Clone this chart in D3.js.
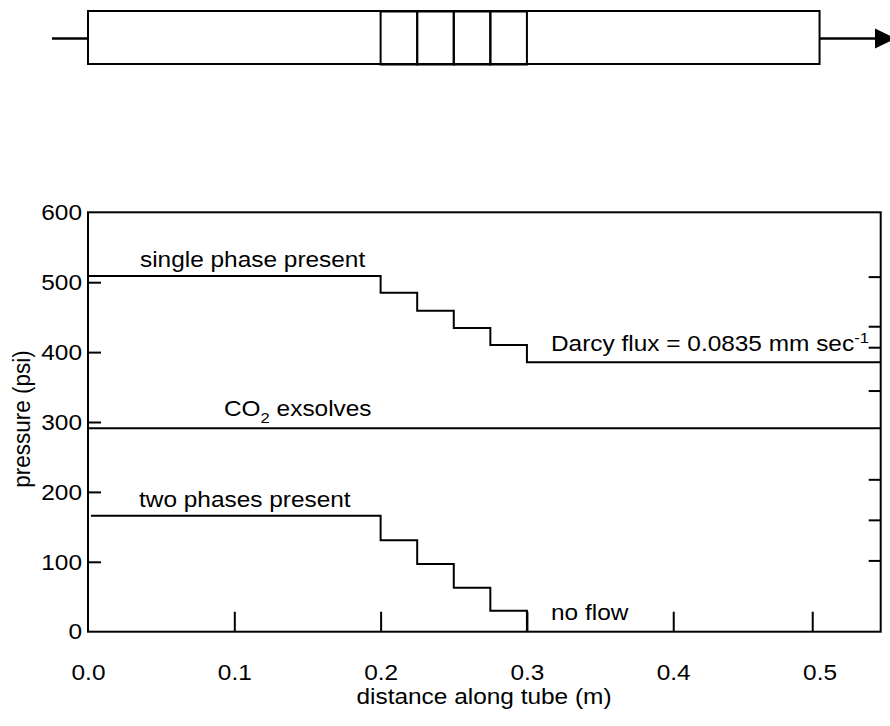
<!DOCTYPE html>
<html>
<head>
<meta charset="utf-8">
<script src="https://cdn.jsdelivr.net/npm/d3@7"></script>
<style>
  body { margin: 0; background: #fff; }
  svg text { font-family: "Liberation Sans", Arial, sans-serif; fill: #000; }
</style>
</head>
<body>
<script>
// data
var xTickLabels = [0.0, 0.1, 0.2, 0.3, 0.4, 0.5];
var xTickMarks = [0.1, 0.2, 0.3, 0.4, 0.495];
var yTickLabels = [0, 100, 200, 300, 400, 500, 600];
var yTickMarks = [100, 200, 300, 400, 500];
var rightTickMarks = [508, 437, 407, 345, 218, 160, 102];

var stepX = [0.2, 0.225, 0.25, 0.275, 0.3];           // cell boundaries (m)
var singlePhase = [509, 485, 459, 434.5, 410, 385.5];  // psi, before 0.2 then after each boundary
var twoPhase = [166, 131, 97, 63, 30, 0];
var co2Level = 291;
var tubeEnd = 0.5;

var W = 890, H = 726;
var FS = 22.5, SX = 1.085;   // picture is a bit stretched sideways

var svg = d3.select("body").append("svg")
    .attr("width", W)
    .attr("height", H);

var x = d3.scaleLinear().domain([0, 0.5418]).range([88, 880.7]);
var y = d3.scaleLinear().domain([0, 600]).range([631.7, 212.3]);
var xMax = x.domain()[1];

// ---- tube sketch on top ----
var tube = svg.append("g");
tube.append("line")
    .attr("x1", 52).attr("x2", x(0))
    .attr("y1", 38.5).attr("y2", 38.5)
    .attr("stroke", "#000").attr("stroke-width", 2.5);
tube.append("line")
    .attr("x1", x(tubeEnd)).attr("x2", 876)
    .attr("y1", 38.5).attr("y2", 38.5)
    .attr("stroke", "#000").attr("stroke-width", 2.5);
tube.append("path")
    .attr("d", "M875,28.5 L896,38.5 L875,48.5 Z")
    .attr("fill", "#000");
tube.append("rect")
    .attr("x", x(0)).attr("y", 11)
    .attr("width", x(tubeEnd) - x(0)).attr("height", 53)
    .attr("fill", "none").attr("stroke", "#000").attr("stroke-width", 2);
tube.selectAll(".cell")
    .data(d3.pairs(stepX))
    .enter().append("rect")
    .attr("class", "cell")
    .attr("x", function(d) { return x(d[0]); })
    .attr("y", 11.5)
    .attr("width", function(d) { return x(d[1]) - x(d[0]); })
    .attr("height", 53)
    .attr("fill", "none").attr("stroke", "#000").attr("stroke-width", 2);

// ---- pressure plot ----
var plot = svg.append("g");

// tick marks (inside)
var leftMarks = plot.append("g")
    .attr("transform", "translate(" + x(0) + ",0)")
    .call(d3.axisLeft(y).tickValues(yTickMarks).tickSizeInner(-13).tickSizeOuter(0).tickFormat(""));
var rightMarks = plot.append("g")
    .attr("transform", "translate(" + x(xMax) + ",0)")
    .call(d3.axisRight(y).tickValues(rightTickMarks).tickSizeInner(-12).tickSizeOuter(0).tickFormat(""));
var bottomMarks = plot.append("g")
    .attr("transform", "translate(0," + y(0) + ")")
    .call(d3.axisBottom(x).tickValues(xTickMarks).tickSizeInner(-20).tickSizeOuter(0).tickFormat(""));
[leftMarks, rightMarks, bottomMarks].forEach(function(g) {
    g.select(".domain").remove();
    g.selectAll("line").attr("stroke", "#000").attr("stroke-width", 2);
});

// tick labels
var leftLabels = plot.append("g")
    .attr("transform", "translate(" + x(0) + ",0)")
    .call(d3.axisLeft(y).tickValues(yTickLabels).tickSize(0).tickPadding(6));
var bottomLabels = plot.append("g")
    .attr("transform", "translate(0," + y(0) + ")")
    .call(d3.axisBottom(x).tickValues(xTickLabels).tickSize(0).tickPadding(32).tickFormat(d3.format(".1f")));
[leftLabels, bottomLabels].forEach(function(g) {
    g.select(".domain").remove();
    g.selectAll("text")
        .attr("font-size", FS)
        .attr("font-family", "Liberation Sans, Arial, sans-serif")
        .attr("fill", "#000");
});
leftLabels.selectAll("text")
    .attr("x", -6 / SX)
    .attr("transform", "scale(" + SX + ",1)");
bottomLabels.selectAll("text")
    .attr("transform", "scale(" + SX + ",1)");

// frame
plot.append("rect")
    .attr("x", x(0)).attr("y", y(600))
    .attr("width", x(xMax) - x(0)).attr("height", y(0) - y(600))
    .attr("fill", "none").attr("stroke", "#000").attr("stroke-width", 2);

// pressure profiles
var line = d3.line()
    .x(function(d) { return x(d[0]); })
    .y(function(d) { return y(d[1]); })
    .curve(d3.curveStepAfter);

var singlePts = [[0, singlePhase[0]]];
stepX.forEach(function(s, i) { singlePts.push([s, singlePhase[i + 1]]); });
singlePts.push([xMax, singlePhase[singlePhase.length - 1]]);

var twoPts = [[0.002, twoPhase[0]]];
stepX.forEach(function(s, i) { twoPts.push([s, twoPhase[i + 1]]); });

var co2Pts = [[0, co2Level], [xMax, co2Level]];

[singlePts, co2Pts, twoPts].forEach(function(pts) {
    plot.append("path")
        .datum(pts)
        .attr("d", line)
        .attr("fill", "none")
        .attr("stroke", "#000")
        .attr("stroke-width", 2);
});

// annotations
function label(px, py, parts, rotate) {
    var t = plot.append("text")
        .attr("font-size", FS)
        .attr("transform", "translate(" + px + "," + py + ") scale(" + SX + ",1)" + (rotate ? " rotate(-90)" : ""))
        .attr("text-anchor", rotate ? "middle" : "start");
    parts.forEach(function(p) {
        var s = t.append("tspan").text(p.t);
        if (p.sub) s.attr("font-size", FS * 0.68).attr("dy", 7);
        if (p.sup) s.attr("font-size", FS * 0.68).attr("dy", -8);
        if (p.back) s.attr("dy", p.back);
    });
    return t;
}
label(140, 267, [{t: "single phase present"}]);
label(551, 351, [{t: "Darcy flux = 0.0835 mm sec"}, {t: "-1", sup: true}]);
label(224, 416, [{t: "CO"}, {t: "2", sub: true}, {t: " exsolves", back: -7}]);
label(139, 507, [{t: "two phases present"}]);
label(551, 620, [{t: "no flow"}]);

label(484, 704, [{t: "distance along tube (m)"}]).attr("text-anchor", "middle");
label(30, 419, [{t: "pressure (psi)"}], true);
</script>
</body>
</html>
